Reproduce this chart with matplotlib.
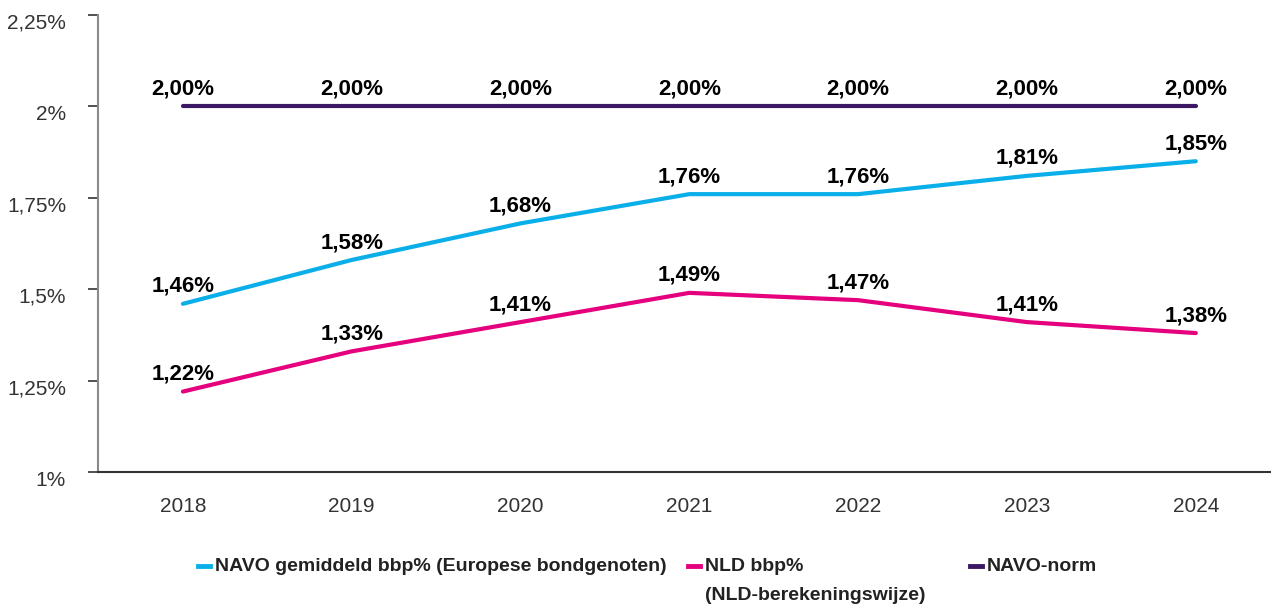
import matplotlib
matplotlib.use("Agg")
import matplotlib.pyplot as plt
import matplotlib.transforms as mtransforms
from matplotlib.lines import Line2D
from matplotlib.ticker import FixedLocator, FixedFormatter

years = ["2018", "2019", "2020", "2021", "2022", "2023", "2024"]
navo_avg = [1.46, 1.58, 1.68, 1.76, 1.76, 1.81, 1.85]
nld = [1.22, 1.33, 1.41, 1.49, 1.47, 1.41, 1.38]
navo_norm = [2.00, 2.00, 2.00, 2.00, 2.00, 2.00, 2.00]

y_ticks = [1.0, 1.25, 1.5, 1.75, 2.0, 2.25]
y_tick_labels = ["1%", "1,25%", "1,5%", "1,75%", "2%", "2,25%"]

series_names = ["NAVO gemiddeld bbp% (Europese bondgenoten)",
                "NLD bbp%\n(NLD-berekeningswijze)",
                "NAVO-norm"]
colors = ["#0AAFEA", "#E5007D", "#3B1863"]

plt.rcParams['font.family'] = ['Liberation Sans', 'DejaVu Sans']

W, H = 1271, 605
fig = plt.figure(figsize=(W / 100, H / 100), dpi=100)
ax = fig.add_axes([98 / W, (H - 472) / H, (W - 98) / W, (472 - 15) / H])

x = list(range(len(years)))
for vals, c in zip([navo_avg, nld, navo_norm], colors):
    ax.plot(x, vals, color=c, lw=3, solid_capstyle='round', clip_on=False)
    for xi, v in zip(x, vals):
        ax.annotate(f"{v:.2f}".replace(".", ",") + "%", (xi, v), xytext=(0, 5),
                    textcoords="offset points", ha="center", va="bottom",
                    fontsize=16, fontweight="bold", color="black")

ax.set_xlim(-0.503, (W - 183) / 168.8)
ax.set_ylim(1.0, 2.25)
ax.set_xticks(x)
ax.set_xticklabels(years)
ax.yaxis.set_major_locator(FixedLocator(y_ticks))
ax.yaxis.set_major_formatter(FixedFormatter(y_tick_labels))
ax.tick_params(axis='x', length=0, pad=18, labelsize=15, labelcolor="#333333")
ax.tick_params(axis='y', length=7, width=1.2, color="#333333", pad=16,
               labelsize=15, labelcolor="#333333")
# y labels sit a little below their ticks in the original
shift = mtransforms.ScaledTranslation(0, -6 / 100, fig.dpi_scale_trans)
for lab in ax.get_yticklabels():
    lab.set_transform(lab.get_transform() + shift)
ax.spines['top'].set_visible(False)
ax.spines['right'].set_visible(False)
ax.spines['left'].set_color("#8a8a8a")
ax.spines['left'].set_linewidth(1.5)
ax.spines['bottom'].set_color("#333333")
ax.spines['bottom'].set_linewidth(1.5)

# legend drawn by hand
leg_x = [198, 688, 970]
leg_y = 566
for lx, name, c in zip(leg_x, series_names, colors):
    fig.add_artist(Line2D([lx / W, (lx + 12) / W], [1 - leg_y / H, 1 - leg_y / H],
                          color=c, lw=3.5, transform=fig.transFigure))
    fig.text((lx + 17) / W, 1 - (leg_y - 8) / H, name, ha="left", va="top",
             fontsize=14, fontweight="bold", color="#222222",
             linespacing=1.95)

fig.savefig("out.png", dpi=100)
